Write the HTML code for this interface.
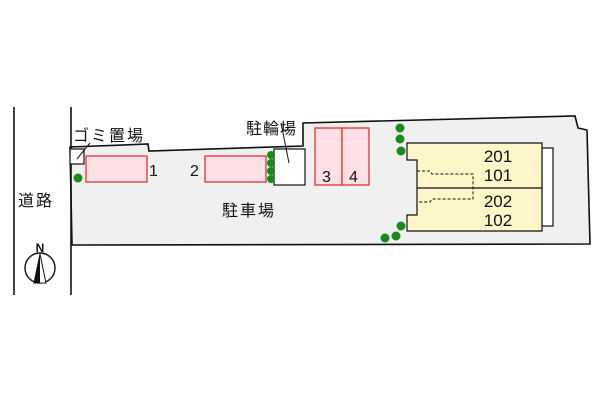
<!DOCTYPE html>
<html><head><meta charset="utf-8"><style>
body{margin:0;background:#fff;}
svg text{font-family:"Liberation Sans","Noto Sans CJK JP",sans-serif;fill:#111;}
</style></head><body>
<svg width="600" height="400" viewBox="0 0 600 400" xmlns="http://www.w3.org/2000/svg">
<rect width="600" height="400" fill="#fff"/>
<polygon points="70,147 148,144 149,151 303,146 303,123 575,116 578,128 587,130 590,244 72,245" fill="#f0f0f0" stroke="#111" stroke-width="1.6"/>
<line x1="14" y1="107" x2="14" y2="295" stroke="#111" stroke-width="1.6"/>
<line x1="71" y1="107" x2="71" y2="295" stroke="#111" stroke-width="1.6"/>
<rect x="70" y="149" width="14" height="15" fill="#fff" stroke="#111" stroke-width="1.2"/>
<line x1="77" y1="159" x2="90" y2="143" stroke="#111" stroke-width="1"/>
<text x="73" y="141" font-size="16" letter-spacing="2">ゴミ置場</text>
<rect x="86" y="156" width="61" height="26" fill="#fde0e6" stroke="#d33" stroke-width="1.3"/>
<text x="149" y="176" font-size="16">1</text>
<rect x="205" y="156" width="61" height="26" fill="#fde0e6" stroke="#d33" stroke-width="1.3"/>
<text x="190" y="176" font-size="16">2</text>
<rect x="274" y="149" width="31" height="36" fill="#fff" stroke="#111" stroke-width="1.2"/>
<line x1="281" y1="123" x2="289" y2="163" stroke="#111" stroke-width="1"/>
<text x="246" y="134" font-size="16" letter-spacing="1">駐輪場</text>
<g fill="#1a8a1a"><circle cx="271" cy="155" r="4"/><circle cx="271" cy="163" r="4"/><circle cx="271" cy="171" r="4"/><circle cx="271" cy="179" r="4"/>
<circle cx="78" cy="178" r="4.5"/>
<circle cx="400" cy="128" r="4.5"/><circle cx="400" cy="139" r="4.5"/><circle cx="401" cy="151" r="4.5"/><circle cx="401" cy="226" r="4.5"/><circle cx="396" cy="236" r="4.5"/><circle cx="385" cy="238" r="4.5"/></g>
<text x="222" y="216" font-size="16" letter-spacing="2">駐車場</text>
<text x="18" y="206" font-size="16" letter-spacing="2">道路</text>
<rect x="315" y="128" width="27" height="57" fill="#fde0e6" stroke="#d33" stroke-width="1.3"/>
<rect x="342" y="128" width="27" height="57" fill="#fde0e6" stroke="#d33" stroke-width="1.3"/>
<text x="322" y="182" font-size="16">3</text>
<text x="349" y="182" font-size="16">4</text>
<rect x="542" y="148" width="11" height="78" fill="#fff" stroke="#111" stroke-width="1.2"/>
<polygon points="407,143 542,143 542,231 407,231 407,215 417,215 417,160 407,160" fill="#fcf6c8" stroke="#111" stroke-width="1.2"/>
<line x1="417" y1="188" x2="542" y2="188" stroke="#111" stroke-width="1.2"/>
<polyline points="417,171 430,171 432,174 473,174 473,199 432,199 430,202 417,202" fill="none" stroke="#111" stroke-width="1" stroke-dasharray="3,2"/>
<g font-size="17" text-anchor="middle"><text x="498" y="162">201</text><text x="498" y="181">101</text><text x="498" y="207">202</text><text x="498" y="226">102</text></g>
<text x="40" y="252" font-size="12" text-anchor="middle" font-weight="bold">N</text>
<circle cx="40" cy="268" r="15" fill="#fff" stroke="#111" stroke-width="1.4"/>
<polygon points="40,254 34,283 46,283" fill="#fff" stroke="#111" stroke-width="1"/>
<polygon points="40,254 40,283 34,283" fill="#111"/>
</svg>
</body></html>
